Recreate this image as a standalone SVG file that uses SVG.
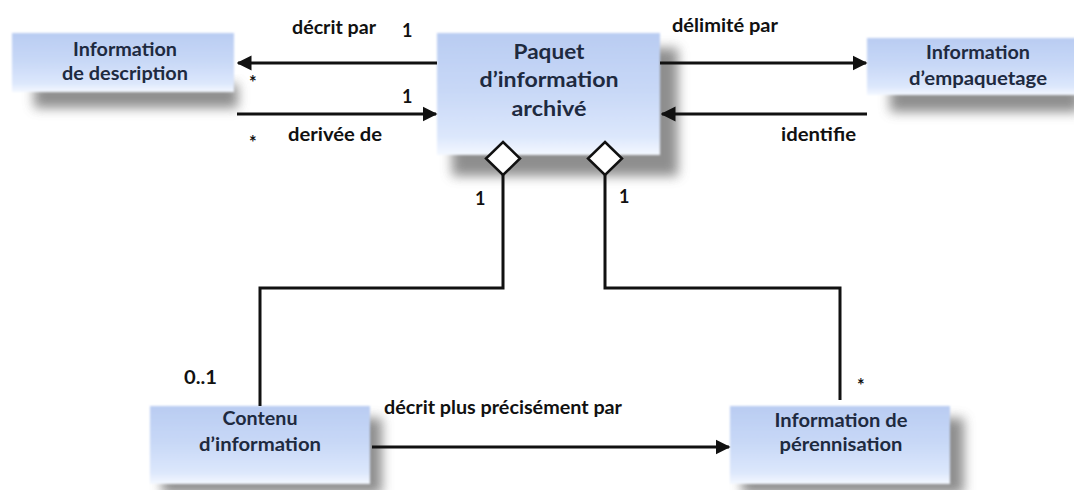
<svg xmlns="http://www.w3.org/2000/svg" width="1074" height="490" viewBox="0 0 1074 490">
  <defs>
    <linearGradient id="boxFill" x1="0" y1="0" x2="0" y2="1">
      <stop offset="0" stop-color="#b9ccf2"/>
      <stop offset="0.5" stop-color="#c9d9f7"/>
      <stop offset="0.85" stop-color="#dce7fc"/>
      <stop offset="1" stop-color="#f4f8ff"/>
    </linearGradient>
    <filter id="shadow" x="-20%" y="-40%" width="150%" height="200%">
      <feGaussianBlur stdDeviation="6"/>
    </filter>
    <filter id="soft" x="-5%" y="-10%" width="110%" height="120%">
      <feGaussianBlur stdDeviation="1.3"/>
    </filter>
    <marker id="arrow" viewBox="0 0 10 10" refX="9" refY="5" markerWidth="5" markerHeight="5.5" markerUnits="strokeWidth" orient="auto">
      <path d="M0,0 L10,5 L0,10 z" fill="#111"/>
    </marker>
  </defs>
  <style>
    .shade { fill: #5f5f5f; opacity: 0.7; filter: url(#shadow); }
    .box { fill: url(#boxFill); filter: url(#soft); }
    .node { font-family: Lato, "Open Sans", "Liberation Sans", sans-serif; font-weight: bold; fill: #1e2a40; text-anchor: middle; font-size: 18px; }
    .big { font-size: 21px; }
    .lbl { font-family: Lato, "Open Sans", "Liberation Sans", sans-serif; font-weight: bold; fill: #111; font-size: 18px; }
    .line { stroke: #111; stroke-width: 3; fill: none; }
    .arrowed { marker-end: url(#arrow); }
    .diamond { fill: #fff; stroke: #111; stroke-width: 2.5; }
  </style>

  <rect width="1074" height="490" fill="#ffffff"/>

  <!-- node boxes: blurred shadow underneath, soft gradient panel, centred caption -->
  <g id="node-description">
    <rect class="shade" x="34" y="84" width="204" height="24"/>
    <rect class="box" x="12" y="33" width="222" height="59"/>
    <text class="node" x="125" y="56" textLength="104" lengthAdjust="spacingAndGlyphs">Information</text>
    <text class="node" x="125" y="80" textLength="126" lengthAdjust="spacingAndGlyphs">de description</text>
  </g>

  <g id="node-paquet">
    <rect class="shade" x="452" y="48" width="226" height="128"/>
    <rect class="box" x="437" y="33" width="223" height="122"/>
    <text class="node big" x="549" y="59" textLength="71" lengthAdjust="spacingAndGlyphs">Paquet</text>
    <text class="node big" x="549" y="87" textLength="139" lengthAdjust="spacingAndGlyphs">d’information</text>
    <text class="node big" x="549" y="116" textLength="75" lengthAdjust="spacingAndGlyphs">archivé</text>
  </g>

  <g id="node-empaquetage">
    <rect class="shade" x="890" y="86" width="190" height="26"/>
    <rect class="box" x="867" y="38" width="210" height="57"/>
    <text class="node" x="978" y="59" textLength="104" lengthAdjust="spacingAndGlyphs">Information</text>
    <text class="node" x="978" y="85" textLength="138" lengthAdjust="spacingAndGlyphs">d’empaquetage</text>
  </g>

  <g id="node-contenu">
    <rect class="shade" x="162" y="418" width="220" height="76"/>
    <rect class="box" x="150" y="406" width="220" height="78"/>
    <text class="node" x="260" y="425" textLength="75" lengthAdjust="spacingAndGlyphs">Contenu</text>
    <text class="node" x="260" y="451" textLength="122" lengthAdjust="spacingAndGlyphs">d’information</text>
  </g>

  <g id="node-perennisation">
    <rect class="shade" x="742" y="418" width="222" height="76"/>
    <rect class="box" x="730" y="406" width="220" height="78"/>
    <text class="node" x="841" y="427" textLength="133" lengthAdjust="spacingAndGlyphs">Information de</text>
    <text class="node" x="841" y="451" textLength="123" lengthAdjust="spacingAndGlyphs">pérennisation</text>
  </g>

  <g id="connectors">
    <line class="line arrowed" x1="437" y1="63" x2="238" y2="63"/>
    <line class="line arrowed" x1="237" y1="114" x2="436" y2="114"/>
    <line class="line arrowed" x1="660" y1="63" x2="866" y2="63"/>
    <line class="line arrowed" x1="867" y1="114" x2="662" y2="114"/>
    <polyline class="line" points="503,175 503,288 260,288 260,406"/>
    <polyline class="line" points="605,175 605,288 840,288 840,400"/>
    <path class="diamond" d="M503,142 L520,158.5 L503,175 L486,158.5 z"/>
    <path class="diamond" d="M605,142 L622,158.5 L605,175 L588,158.5 z"/>
    <line class="line arrowed" x1="372" y1="447" x2="729" y2="447"/>

    <text class="lbl" x="292" y="34" textLength="84" lengthAdjust="spacingAndGlyphs">décrit par</text>
    <text class="lbl" x="402" y="37">1</text>
    <text class="lbl" x="249" y="89">*</text>
    <text class="lbl" x="402" y="103">1</text>
    <text class="lbl" x="249" y="149">*</text>
    <text class="lbl" x="288" y="141" textLength="94" lengthAdjust="spacingAndGlyphs">derivée de</text>
    <text class="lbl" x="672" y="32" textLength="106" lengthAdjust="spacingAndGlyphs">délimité par</text>
    <text class="lbl" x="781" y="141" textLength="75" lengthAdjust="spacingAndGlyphs">identifie</text>
    <text class="lbl" x="475" y="205">1</text>
    <text class="lbl" x="619" y="203">1</text>
    <text class="lbl" x="184" y="384" textLength="33" lengthAdjust="spacingAndGlyphs">0..1</text>
    <text class="lbl" x="384" y="414" textLength="238" lengthAdjust="spacingAndGlyphs">décrit plus précisément par</text>
    <text class="lbl" x="857" y="392">*</text>
  </g>
</svg>
